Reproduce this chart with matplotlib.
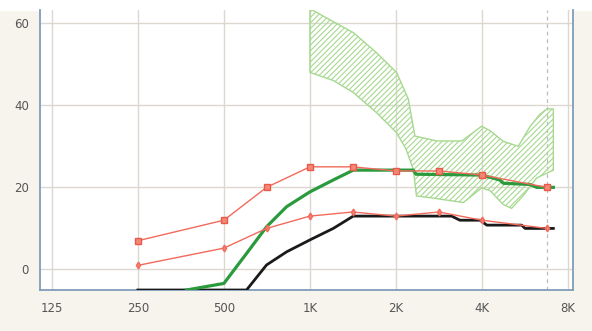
import numpy as np
import matplotlib
matplotlib.use('Agg')
import matplotlib.pyplot as plt

# x labels / ticks
xticks = [125, 250, 500, 1000, 2000, 4000, 8000]
xlabels = ['125', '250', '500', '1K', '2K', '4K', '8K']
yticks = [0, 20, 40, 60]

# red curves (target points)
red_f = [250, 500, 705, 1000, 1410, 2000, 2830, 4000, 6750]
red_hi = [7, 12, 20, 25, 25, 24, 24, 23, 20]
red_lo = [1, 5.2, 10, 13, 14, 13, 14, 12, 10]

# green curve
green_f = [370, 500, 600, 705, 829, 1000, 1207, 1418, 2300, 2350, 3940, 4300, 4620, 4750, 5890, 6220, 7110]
green_v = [-5, -3.4, 3.9, 10.4, 15.3, 18.9, 21.8, 24.2, 24.2, 23.2, 23.0, 22.4, 21.8, 21.0, 20.7, 20, 20]

# black curve
black_f = [250, 600, 705, 829, 1000, 1207, 1418, 3130, 3350, 3940, 4160, 5510, 5660, 7110]
black_v = [-5, -5, 1.1, 4.3, 7.2, 10, 13, 13, 12, 12, 10.8, 10.8, 10, 10]

# hatched band
band_up_f = [1000, 1418, 1710, 2010, 2210, 2330, 2780, 3400, 3990, 4270, 4750, 5360, 5890, 6380, 6750, 7110]
band_up_v = [63.5, 57.7, 52.8, 48, 41.5, 32.5, 31.3, 31.3, 34.9, 33.8, 31.2, 30, 34.8, 37.8, 39.1, 39.1]
band_lo_f = [1000, 1210, 1418, 1710, 2010, 2170, 2300, 2360, 2630, 3440, 3680, 3990, 4270, 4750, 5080, 5580, 6220, 7110]
band_lo_v = [48, 46, 43.1, 38.2, 33.3, 29.3, 24.4, 17.9, 17.5, 16.3, 17.9, 19.9, 19.2, 15.8, 14.9, 18, 22.3, 24.2]

limit_f = 6750

bg = '#f6f4ec'
fig = plt.figure(figsize=(5.92, 3.31), dpi=100, facecolor=bg)
ax = fig.add_axes([40/592, 1-290/331, 533/592, 280/331])
fig.add_artist(plt.Rectangle((0, 1-10/331), 1, 10/331, transform=fig.transFigure, color='white', zorder=0))

ax.set_xscale('log', base=2)
ax.set_xlim(113.6, 8330)
ax.set_ylim(-5, 63.2)

grid_c = '#dcd8d0'
ax.set_xticks(xticks)
ax.set_xticklabels(xlabels)
ax.set_yticks(yticks)
ax.minorticks_off()
ax.grid(True, color=grid_c, lw=1.0)
ax.set_axisbelow(True)
ax.tick_params(length=0, labelsize=8.5, labelcolor='#555555')
ax.tick_params(axis='x', pad=9)
ax.tick_params(axis='y', pad=8)

for s in ['left', 'bottom', 'right']:
    ax.spines[s].set_color('#7f9db9')
    ax.spines[s].set_linewidth(1.3)
ax.spines['top'].set_visible(False)

ax.axvline(limit_f, color='#bbbbbb', lw=0.9, ls=(0, (3, 3)), zorder=1)

# band
bx = list(band_up_f) + list(band_lo_f[::-1])
by = list(band_up_v) + list(band_lo_v[::-1])
plt.rcParams['hatch.color'] = '#acdc96'
plt.rcParams['hatch.linewidth'] = 0.8
ax.fill(bx, by, facecolor='none', edgecolor='#a6d98f', hatch='//////', lw=1.0, zorder=2)

ax.plot(black_f, black_v, color='#1a1a1a', lw=2.0, zorder=3, solid_joinstyle='round')
ax.plot(green_f, green_v, color='#2a9a3c', lw=2.3, zorder=3, solid_joinstyle='round')

red = '#f26a5c'
ax.plot(red_f, red_lo, color=red, lw=1.0, marker='d', ms=3.5, mfc='#f48070', mec=red, zorder=4)
ax.plot(red_f, red_hi, color=red, lw=1.0, marker='s', ms=4.5, mfc='#f48878', mec='#ea5848', zorder=4)

fig.savefig('out.png', dpi=100, facecolor=bg)
